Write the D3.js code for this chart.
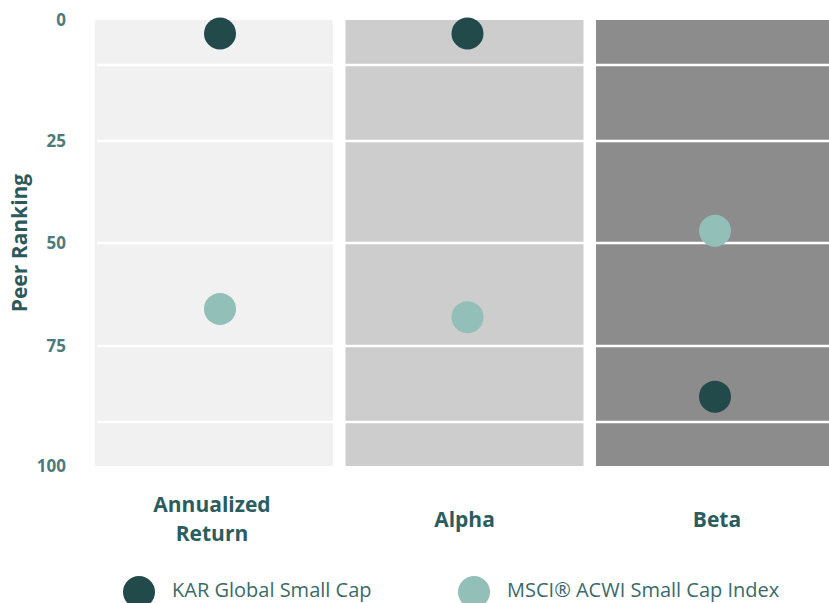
<!DOCTYPE html>
<html>
<head>
<meta charset="utf-8">
<script src="https://cdn.jsdelivr.net/npm/d3@7"></script>
<style>
  body { margin: 0; background: #fff; }
  svg { display: block; font-family: "Open Sans", Lato, sans-serif; }
</style>
</head>
<body>
<div id="chart"></div>
<script>
// data
const categories = ['Annualized Return', 'Alpha', 'Beta'];
const series = ['KAR Global Small Cap', 'MSCI® ACWI Small Cap Index'];
const karValues = [3, 3, 85];
const msciValues = [66, 68, 47];
const tickValues = [0, 25, 50, 75, 100];
const gridValues = [10, 25, 50, 75, 90];

const width = 829, height = 603;
const panelColors = ['#f1f1f1', '#cdcdcd', '#8c8c8c'];
const dotColors = ['#224a4b', '#93bfb9'];

const svg = d3.select('#chart').append('svg')
	.attr('width', width)
	.attr('height', height);

// quartile/decile scale, piecewise
const y = d3.scaleLinear()
	.domain([0, 10, 25, 50, 75, 90, 100])
	.range([20, 65, 141, 243, 346, 422, 466]);

const x = d3.scaleBand()
	.domain(categories)
	.range([95, 834])
	.paddingInner(0.05);

// dot centres sit a little right of the panel centres
const xDot = d3.scalePoint()
	.domain(categories)
	.range([220, 715]);

// panels
svg.selectAll('.panel')
	.data(categories).enter().append('rect')
	.attr('class', 'panel')
	.attr('x', d => x(d))
	.attr('y', y(0))
	.attr('width', x.bandwidth())
	.attr('height', y(100) - y(0))
	.style('fill', (d, i) => panelColors[i]);

// grid lines
svg.selectAll('.grid')
	.data(gridValues).enter().append('line')
	.attr('class', 'grid')
	.attr('x1', 97)
	.attr('x2', width)
	.attr('y1', d => y(d))
	.attr('y2', d => y(d))
	.style('stroke', '#fff')
	.style('stroke-width', 2.5);

// y ticks
svg.selectAll('.tick-label')
	.data(tickValues).enter().append('text')
	.attr('class', 'tick-label')
	.attr('x', 66)
	.attr('y', d => y(d) + 6)
	.attr('text-anchor', 'end')
	.text(d => d)
	.style('font-size', '17px')
	.style('font-weight', 'bold')
	.style('fill', '#4d7b7b');

svg.append('text')
	.attr('transform', `translate(27, ${y(50)}) rotate(-90)`)
	.attr('text-anchor', 'middle')
	.text('Peer Ranking')
	.style('font-size', '21px')
	.style('font-weight', 'bold')
	.style('fill', '#2c5a5b');

// category labels
const catLabels = svg.selectAll('.cat')
	.data(categories).enter().append('text')
	.attr('class', 'cat')
	.attr('text-anchor', 'middle')
	.style('font-size', '21px')
	.style('font-weight', 'bold')
	.style('fill', '#2b5d5e');
catLabels.each(function (d, i) {
	const words = d.split(' ');
	const cx = x(d) + x.bandwidth() / 2 - (i === 0 ? 2 : 0) + (i === 2 ? 2 : 0);
	const startY = words.length > 1 ? 512 : 527;
	words.forEach((w, j) => {
		d3.select(this).append('tspan')
			.attr('x', cx)
			.attr('y', startY + j * 29)
			.text(w);
	});
});

// dots
const dotData = [];
categories.forEach((c, i) => {
	dotData.push({cat: c, s: 1, v: msciValues[i]});
	dotData.push({cat: c, s: 0, v: karValues[i]});
});
svg.selectAll('.dot')
	.data(dotData).enter().append('circle')
	.attr('class', 'dot')
	.attr('cx', d => xDot(d.cat))
	.attr('cy', d => y(d.v))
	.attr('r', 16)
	.style('fill', d => dotColors[d.s]);

// legend
const legendX = [139, 474];
const legend = svg.selectAll('.legend')
	.data(series).enter().append('g')
	.attr('class', 'legend')
	.attr('transform', (d, i) => `translate(${legendX[i]}, 592)`);
legend.append('circle')
	.attr('r', 16)
	.style('fill', (d, i) => dotColors[i]);
legend.append('text')
	.attr('x', 33)
	.attr('y', 5)
	.text(d => d)
	.style('font-size', '20px')
	.style('fill', '#3b6a6a');
</script>
</body>
</html>
